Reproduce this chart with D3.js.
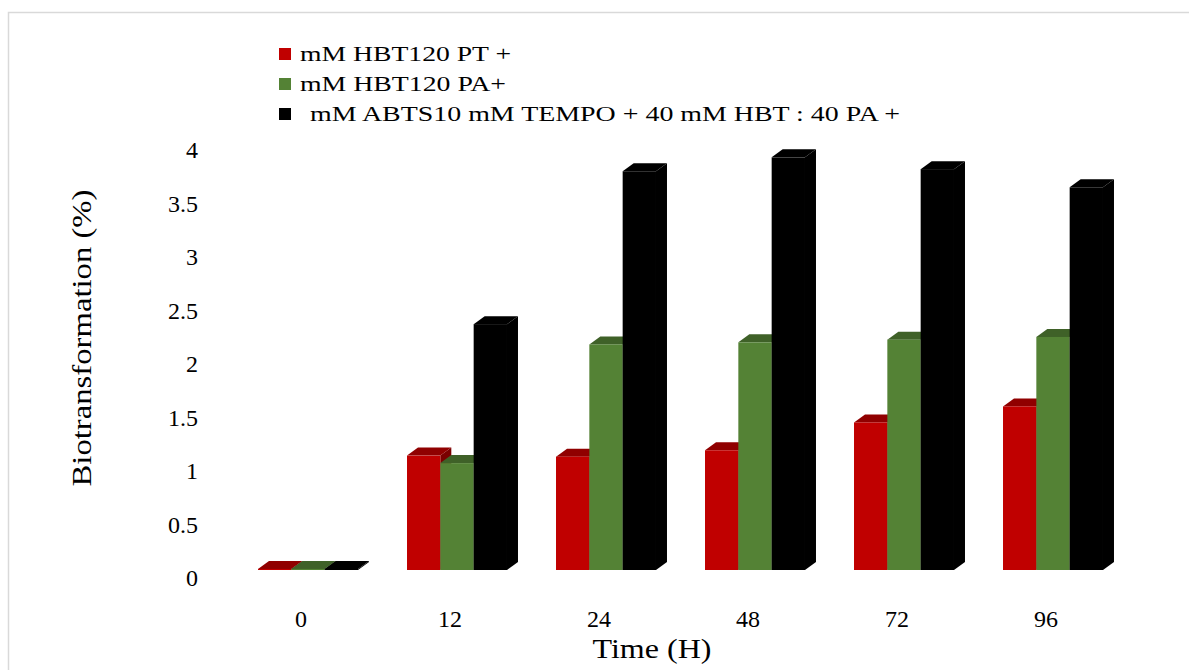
<!DOCTYPE html>
<html>
<head>
<meta charset="utf-8">
<script src="https://cdn.jsdelivr.net/npm/d3@7"></script>
<style>
  body { margin: 0; background: #fff; }
  text { font-family: "Liberation Serif", "DejaVu Serif", serif; fill: #000; }
</style>
</head>
<body>
<div id="chart"></div>
<script>
// data
const hours = ["0", "12", "24", "48", "72", "96"];
const seriesNames = [
  "mM HBT120 PT +",
  "mM HBT120 PA+",
  "mM ABTS10 mM TEMPO + 40 mM HBT : 40 PA +"
];
const ptValues   = [0.01, 1.07, 1.06, 1.12, 1.38, 1.53];
const paValues   = [0.01, 1.00, 2.11, 2.13, 2.155, 2.18];
const abtsValues = [0.01, 2.30, 3.73, 3.86, 3.75, 3.58];
const yTicks = [0, 0.5, 1, 1.5, 2, 2.5, 3, 3.5, 4];

const seriesValues = [ptValues, paValues, abtsValues];
const frontColors = ["#c00000", "#548235", "#000000"];
const topColors   = ["#900000", "#3f6128", "#000000"];
const sideColors  = ["#7a0000", "#36541f", "#000000"];

const width = 1189, height = 670;
const depth = { dx: 11, dy: 8 };

const svg = d3.select("#chart").append("svg")
    .attr("width", width)
    .attr("height", height);

// frame of the chart area
svg.append("path")
    .attr("d", "M8.5," + height + " V12.5 H" + width)
    .attr("fill", "none")
    .attr("stroke", "#d9d9d9")
    .attr("stroke-width", 1.5);

const x0 = d3.scaleBand()
    .domain(hours)
    .range([233.5, 1127.5])
    .paddingInner(0.329)
    .paddingOuter(0.1645);

const x1 = d3.scaleBand()
    .domain(d3.range(seriesNames.length))
    .range([0, x0.bandwidth()]);

const yScale = d3.scaleLinear()
    .domain([0, 4])
    .range([570, 570 - 4 * 106.9]);

// labels sit on the back wall, a bit lower than the front faces
const yAxisScale = yScale.copy().range([578, 150]);

const yAxis = d3.axisLeft(yAxisScale)
    .tickValues(yTicks)
    .tickFormat(d3.format("~g"))
    .tickSize(0)
    .tickPadding(0);

const yAxisG = svg.append("g")
    .attr("transform", "translate(198,0)")
    .call(yAxis);
yAxisG.select(".domain").remove();
yAxisG.selectAll("text")
    .style("font-family", "Liberation Serif")
    .style("font-size", "24px")
    .attr("fill", "#000");

const xAxis = d3.axisBottom(x0).tickSize(0).tickPadding(0);
const xAxisG = svg.append("g")
    .attr("transform", "translate(-7,620)")
    .call(xAxis);
xAxisG.select(".domain").remove();
xAxisG.selectAll("text")
    .style("font-family", "Liberation Serif")
    .style("font-size", "24px")
    .attr("fill", "#000")
    .attr("dy", "0.3em")
    .attr("y", 0);

// 3d columns, painted left to right so the next front face hides the side
const bars = [];
hours.forEach((h, i) => {
  seriesValues.forEach((vals, s) => {
    bars.push({ h: h, s: s, v: vals[i] });
  });
});

const barG = svg.append("g");
bars.forEach(d => {
  const xl = x0(d.h) + x1(d.s);
  const xr = xl + x1.bandwidth();
  const yt = yScale(d.v);
  const yb = yScale(0);
  const g = barG.append("g");
  // side face
  g.append("path")
      .attr("d", `M${xr},${yt} L${xr + depth.dx},${yt - depth.dy} L${xr + depth.dx},${yb - depth.dy} L${xr},${yb} Z`)
      .attr("fill", sideColors[d.s]);
  // top face
  g.append("path")
      .attr("d", `M${xl},${yt} L${xl + depth.dx},${yt - depth.dy} L${xr + depth.dx},${yt - depth.dy} L${xr},${yt} Z`)
      .attr("fill", topColors[d.s]);
  // front face
  g.append("rect")
      .attr("x", xl)
      .attr("y", yt)
      .attr("width", x1.bandwidth())
      .attr("height", Math.max(yb - yt, 0.5))
      .attr("fill", frontColors[d.s]);
});

// legend
const legendY = [54, 84, 114];
const legendTextX = [300, 300, 310];
const legendLen = [211, 206, 590];
const legend = svg.append("g");
seriesNames.forEach((name, i) => {
  legend.append("rect")
      .attr("x", 279)
      .attr("y", legendY[i] - 6)
      .attr("width", 12)
      .attr("height", 12)
      .attr("fill", frontColors[i]);
  legend.append("text")
      .attr("x", legendTextX[i])
      .attr("y", legendY[i])
      .attr("dy", "0.34em")
      .attr("textLength", legendLen[i])
      .attr("lengthAdjust", "spacingAndGlyphs")
      .style("font-size", "22px")
      .text(name);
});

// axis titles
svg.append("text")
    .attr("x", 652)
    .attr("y", 648)
    .attr("dy", "0.34em")
    .attr("text-anchor", "middle")
    .attr("textLength", 119)
    .attr("lengthAdjust", "spacingAndGlyphs")
    .style("font-size", "28px")
    .text("Time (H)");

svg.append("text")
    .attr("transform", "translate(82,338) rotate(-90)")
    .attr("dy", "0.34em")
    .attr("text-anchor", "middle")
    .attr("textLength", 297)
    .attr("lengthAdjust", "spacingAndGlyphs")
    .style("font-size", "27px")
    .text("Biotransformation (%)");
</script>
</body>
</html>
